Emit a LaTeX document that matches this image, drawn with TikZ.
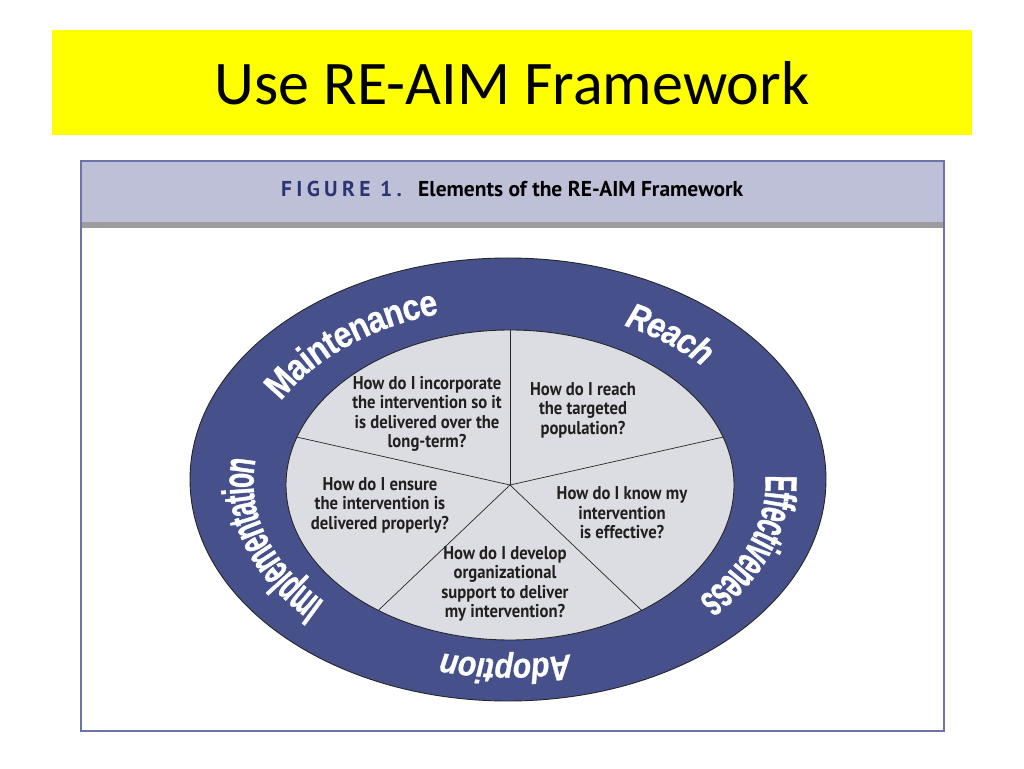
\documentclass[tikz,border=0pt]{standalone}
\usepackage{fontspec}
\setmainfont{Carlito}
\newfontfamily\ringfont{Liberation Sans}[FakeStretch=0.86, FakeBold=0.6]
\newfontfamily\ringcond{Liberation Sans}[FakeStretch=0.55, FakeBold=0.8]
\newfontfamily\qfont{PT Sans}[FakeStretch=0.9]
\newfontfamily\headfont{PT Sans}
\newfontfamily\figfont{PT Sans}[LetterSpace=20]
\usetikzlibrary{decorations.text,shapes.geometric}
\definecolor{titleyellow}{HTML}{FFFF00}
\definecolor{framecol}{HTML}{6E72A8}
\definecolor{headband}{HTML}{BEC0D8}
\definecolor{headstrip}{HTML}{9C9C9C}
\definecolor{ringblue}{HTML}{46518C}
\definecolor{innergray}{HTML}{DCDDE3}
\definecolor{navytext}{HTML}{2B3473}
\definecolor{qtext}{HTML}{231F20}
\tikzset{
  question/.style={font=\qfont\bfseries\fontsize{18.5pt}{19.5pt}\selectfont, text=qtext, align=center, inner sep=0pt},
  sectorline/.style={draw=black!85, line width=0.7pt},
  ringlabel/.style={decorate, decoration={text along path, text align=center, raise=#1}},
}
\begin{document}
\begin{tikzpicture}[x=1pt,y=1pt]
\useasboundingbox (0,0) rectangle (1024,768);
\fill[white] (0,0) rectangle (1024,768);
% title bar
\node[fill=titleyellow, minimum width=920pt, minimum height=105pt, inner sep=0pt, anchor=north west] (titlebar) at (52,738) {};
\node[font=\fontsize{62pt}{70pt}\selectfont, anchor=base] (title) at (512,663) {Use RE-AIM Framework};
% frame
\fill[headband] (80,608) rectangle (943,546);
\fill[headstrip] (80,546) rectangle (943,540);
\node[draw=framecol, line width=2.2pt, minimum width=863pt, minimum height=570pt, inner sep=0pt, anchor=north west] (frame) at (80,608) {};
\node[font=\figfont\bfseries\fontsize{21.5pt}{22pt}\selectfont, text=navytext, anchor=base west, inner sep=0pt] (figlabel) at (281,571) {FIGURE 1.};
\node[font=\headfont\bfseries\fontsize{21.5pt}{22pt}\selectfont, text=black, anchor=base west, inner sep=0pt] (figtitle) at (418,571) {Elements of the RE-AIM Framework};
% ring
\node[draw=black!85, line width=0.9pt, fill=ringblue, ellipse, minimum width=636pt, minimum height=443pt, inner sep=0pt] (outer) at (508,288.5) {};
\node[draw=black!85, line width=0.9pt, fill=innergray, ellipse, minimum width=448pt, minimum height=310pt, inner sep=0pt] (inner) at (510,283) {};
\coordinate (c) at (510,283);
\path (c) ++(90:224 and 155) coordinate (p1);
\path (c) ++(18:224 and 155) coordinate (p2);
\path (c) ++(-54:224 and 155) coordinate (p3);
\path (c) ++(-126:224 and 155) coordinate (p4);
\path (c) ++(162:224 and 155) coordinate (p5);
\foreach \p in {p1,p2,p3,p4,p5} \draw[sectorline] (c) -- (\p);
% ring labels (clockwise along the middle of the ring)
\path[ringlabel=-13pt, decoration={text={|\ringfont\bfseries\fontsize{37pt}{37pt}\selectfont\color{white}|Maintenance}}]
  (509.5,285.75) ++(170:271 and 188) arc[start angle=170, end angle=92, x radius=271, y radius=188];
\path[ringlabel=-13pt, decoration={text={|\ringfont\bfseries\itshape\fontsize{36pt}{36pt}\selectfont\color{white}|Reach}}]
  (509.5,285.75) ++(81:271 and 188) arc[start angle=81, end angle=21, x radius=271, y radius=188];
\path[ringlabel=-15pt, decoration={text={|\ringcond\bfseries\fontsize{45pt}{45pt}\selectfont\color{white}|Effectiveness}}]
  (509.5,285.75) ++(27:271 and 188) arc[start angle=27, end angle=-63, x radius=271, y radius=188];
\path[ringlabel=-11pt, decoration={text={|\ringfont\bfseries\itshape\fontsize{35pt}{35pt}\selectfont\color{white}|Adoption}}]
  (509.5,285.75) ++(-51:271 and 188) arc[start angle=-51, end angle=-131, x radius=271, y radius=188];
\path[ringlabel=-15pt, decoration={text={|\ringcond\bfseries\fontsize{45pt}{45pt}\selectfont\color{white}|Implementation}}]
  (509.5,285.75) ++(246:271 and 188) arc[start angle=246, end angle=146, x radius=271, y radius=188];
% questions
\node[question] (qm) at (427,354) {How do I incorporate\\the intervention so it\\is delivered over the\\long-term?};
\node[question] (qr) at (583,358) {How do I reach\\the targeted\\population?};
\node[question] (qe) at (622,255) {How do I know my\\intervention\\is effective?};
\node[question] (qi) at (380,263) {How do I ensure\\the intervention is\\delivered properly?};
\node[question] (qa) at (505,184) {How do I develop\\organizational\\support to deliver\\my intervention?};
\end{tikzpicture}
\end{document}
